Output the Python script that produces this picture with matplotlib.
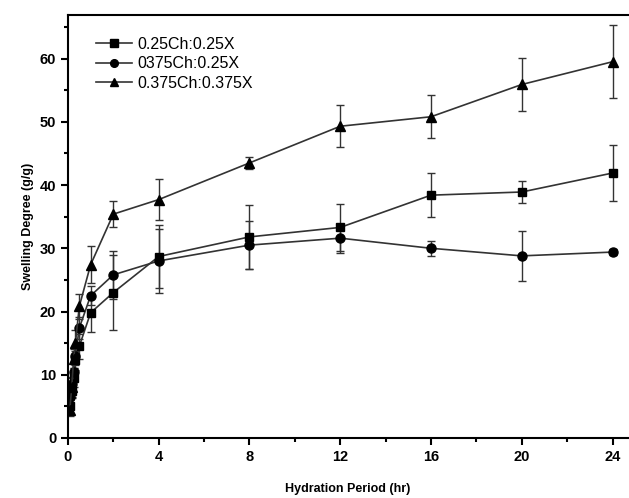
import numpy as np
import matplotlib.pyplot as plt
from matplotlib.ticker import MultipleLocator

plt.rcParams['font.family'] = ['Liberation Sans', 'DejaVu Sans']

# hydration time (hr)
hours = [0.083, 0.167, 0.25, 0.33, 0.5, 1, 2, 4, 8, 12, 16, 20, 24]

# 0.25Ch:0.25X
sq_mean = [5.0, 7.5, 9.5, 12.3, 14.5, 19.8, 23.0, 28.7, 31.8, 33.3, 38.4, 38.9, 41.9]
sq_err = [1.0, 1.2, 1.5, 1.5, 2.0, 3.0, 6.0, 5.0, 5.0, 3.7, 3.5, 1.7, 4.4]

# 0375Ch:0.25X
ci_mean = [6.5, 8.5, 10.5, 13.0, 17.4, 22.5, 25.8, 28.0, 30.5, 31.6, 30.0, 28.8, 29.4]
ci_err = [1.0, 1.2, 1.5, 1.5, 1.8, 1.5, 3.8, 5.0, 3.8, 2.3, 1.2, 3.9, 0.5]

# 0.375Ch:0.375X
tr_mean = [4.5, 8.0, 12.5, 15.0, 20.8, 27.4, 35.4, 37.7, 43.5, 49.3, 50.8, 55.9, 59.5]
tr_err = [1.0, 1.5, 1.5, 2.0, 2.0, 2.9, 2.0, 3.2, 1.0, 3.3, 3.4, 4.2, 5.8]

labels = ['0.25Ch:0.25X', '0375Ch:0.25X', '0.375Ch:0.375X']

fig = plt.figure(figsize=(6.29, 4.98), dpi=100)
ax = fig.add_axes([0.108, 0.1205, 0.89, 0.8495])

series = [(sq_mean, sq_err, 's', 6), (ci_mean, ci_err, 'o', 6.5), (tr_mean, tr_err, '^', 7.5)]
handles = []
for (m, e, mk, size), lab in zip(series, labels):
    cont = ax.errorbar(hours, m, yerr=e, fmt='-', marker=mk, color='#333333',
                       mfc='black', mec='black', ms=size, lw=1.2, elinewidth=1.0,
                       ecolor='#333333', capsize=3, capthick=1.0)
    line = cont[0]
    line.set_label(lab)
    handles.append(line)

ax.set_xlim(0, 24.67)
ax.set_ylim(0, 66.9)
ax.xaxis.set_major_locator(MultipleLocator(4))
ax.xaxis.set_minor_locator(MultipleLocator(2))
ax.yaxis.set_major_locator(MultipleLocator(10))
ax.yaxis.set_minor_locator(MultipleLocator(5))
ax.tick_params(which='both', direction='out', width=1.5)
ax.tick_params(which='major', length=5, labelsize=10.5)
ax.tick_params(which='minor', length=3)
for lbl in ax.get_xticklabels() + ax.get_yticklabels():
    lbl.set_fontweight('bold')
for s in ax.spines.values():
    s.set_linewidth(1.5)
ax.spines['right'].set_visible(False)

ax.set_xlabel('Hydration Period (hr)', fontsize=9, fontweight='bold', labelpad=14)
ax.set_ylabel('Swelling Degree (g/g)', fontsize=9, fontweight='bold', labelpad=4)

leg = ax.legend(handles=handles, loc='upper left', frameon=False, fontsize=11.5,
                bbox_to_anchor=(0.038, 0.963), handlelength=2.3, markerscale=0.85,
                handletextpad=0.3, labelspacing=0.28, borderaxespad=0)

fig.savefig('out.png', dpi=100)
